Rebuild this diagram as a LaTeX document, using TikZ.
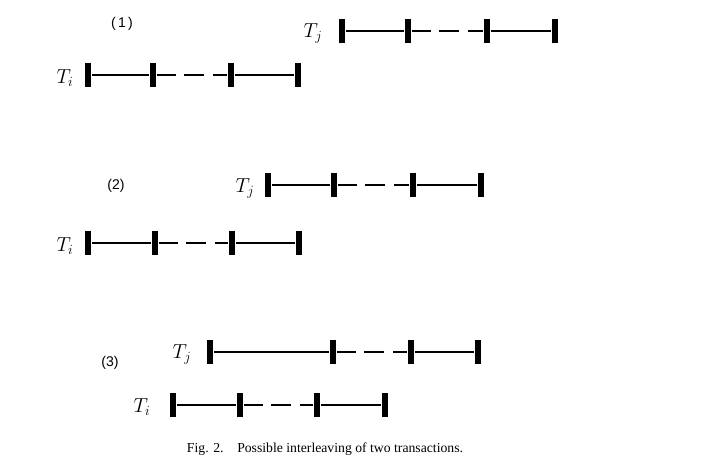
\documentclass[tikz,border=0pt]{standalone}
\usepackage{fontspec}
\setmainfont{Liberation Serif}
\setsansfont{Liberation Sans}
\begin{document}
\begin{tikzpicture}[x=.03cm,y=-.03cm,line width=1.3pt,bar/.style={fill,inner sep=0pt,minimum width=5.5pt,minimum height=20pt},gapline/.style={dash pattern=on 16pt off 7pt on 17pt off 8pt on 60pt},lbl/.style={font=\LARGE},num/.style={font=\sffamily\large}]
\useasboundingbox(0,0)rectangle(712,473);
\node[bar](a1)at(342,31){};\node[bar](a2)at(408,31){};\node[bar](a3)at(487,31){};\node[bar](a4)at(555,31){};\node[lbl](ta)at(313,33){$T_j$};
\draw(a1)--(a2);\draw[gapline](a2)--(a3);\draw(a3)--(a4);
\node[bar](b1)at(88,75){};\node[bar](b2)at(153,75){};\node[bar](b3)at(231,75){};\node[bar](b4)at(298,75){};\node[lbl](tb)at(65,78){$T_i$};
\draw(b1)--(b2);\draw[gapline](b2)--(b3);\draw(b3)--(b4);
\node[num](n1)at(122,24){(\,1\,)};
\node[bar](c1)at(268,185){};\node[bar](c2)at(334,185){};\node[bar](c3)at(413,185){};\node[bar](c4)at(481,185){};\node[lbl](tc)at(245,188){$T_j$};
\draw(c1)--(c2);\draw[gapline](c2)--(c3);\draw(c3)--(c4);
\node[bar](d1)at(88,243){};\node[bar](d2)at(155,243){};\node[bar](d3)at(232,243){};\node[bar](d4)at(299,243){};\node[lbl](td)at(65,246){$T_i$};
\draw(d1)--(d2);\draw[gapline](d2)--(d3);\draw(d3)--(d4);
\node[num](n2)at(116,186){(2)};
\node[bar](e1)at(210,352){};\node[bar](e2)at(333,352){};\node[bar](e3)at(411,352){};\node[bar](e4)at(478,352){};\node[lbl](te)at(182,354){$T_j$};
\draw(e1)--(e2);\draw[gapline](e2)--(e3);\draw(e3)--(e4);
\node[bar](f1)at(173,405){};\node[bar](f2)at(240,405){};\node[bar](f3)at(317,405){};\node[bar](f4)at(385,405){};\node[lbl](tf)at(142,407){$T_i$};
\draw(f1)--(f2);\draw[gapline](f2)--(f3);\draw(f3)--(f4);
\node[num](n3)at(110,363){(3)};
\node[font=\fontsize{11.7}{14}\selectfont](cap)at(325,449){Fig. 2.\quad Possible interleaving of two transactions.};
\end{tikzpicture}
\end{document}
